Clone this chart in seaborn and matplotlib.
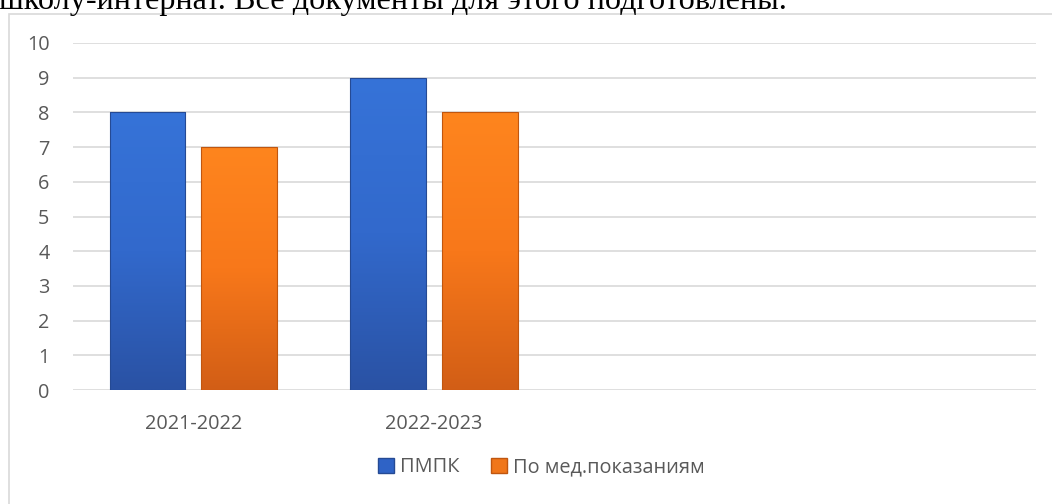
import numpy as np
import pandas as pd
import matplotlib
matplotlib.use("Agg")
import matplotlib.pyplot as plt
from matplotlib.patches import Rectangle
from matplotlib.colors import LinearSegmentedColormap
import seaborn as sns

# data
years = ["2021-2022", "2022-2023"]
pmpk = [8, 9]
med = [7, 8]
series_names = ["ПМПК", "По мед.показаниям"]
header_text = "школу-интернат. Все документы для этого подготовлены."

df = pd.DataFrame({
    "year": years * 2,
    "value": pmpk + med,
    "kind": [series_names[0]] * len(years) + [series_names[1]] * len(years),
})

sns.set_style("white")
plt.rcParams["font.family"] = ["Open Sans", "DejaVu Sans"]

W, H = 1052, 504
fig = plt.figure(figsize=(W / 100, H / 100), dpi=100)

# chart frame (cut off at right and bottom)
fig.patches.append(Rectangle((9 / W, -0.1), 1.2, 1 - 14 / H + 0.1, transform=fig.transFigure,
                             fill=False, edgecolor="#d9d9d9", linewidth=1.2))

# surrounding document text, cut at the top
fig.text(-1 / W, 1 - 8.5 / H, header_text, family="Liberation Serif", fontsize=23.2,
         va="baseline", ha="left", color="black")

ax = fig.add_axes([73 / W, 114 / H, (1036 - 73) / W, (390 - 43) / H])
colors = ["#2f63c6", "#f0761a"]
sns.barplot(data=df, x="year", y="value", hue="kind", order=years, hue_order=series_names,
            palette=colors, width=0.763, gap=0.174, ax=ax, legend=False, zorder=3)

# vertical gradient on each bar
grads = [LinearSegmentedColormap.from_list("b", ["#2a52a4", "#3269cc", "#3673d8"]),
         LinearSegmentedColormap.from_list("o", ["#d25e16", "#f8781a", "#fe851e"])]
edges = ["#254a94", "#c0560f"]
for i, cont in enumerate(ax.containers):
    for p in cont.patches:
        x0, y0 = p.get_x(), p.get_y()
        w, h = p.get_width(), p.get_height()
        img = ax.imshow(np.linspace(0, 1, 256).reshape(-1, 1), cmap=grads[i], aspect="auto",
                        extent=[x0, x0 + w, y0, y0 + h], origin="lower", zorder=3)
        img.set_clip_path(p)
        p.set_facecolor("none")
        p.set_edgecolor(edges[i])
        p.set_linewidth(0.8)
        p.set_zorder(4)

ax.set_xlim(-0.5, 3.5)
ax.set_ylim(0, 10)
ax.set_yticks(range(0, 11))
ax.yaxis.grid(True, color="#d9d9d9", linewidth=1.2, zorder=0)
ax.set_axisbelow(True)
for s in ax.spines.values():
    s.set_visible(False)
ax.set_xlabel("")
ax.set_ylabel("")
ax.tick_params(axis="both", length=0, labelsize=14.3, labelcolor="#595959")
ax.tick_params(axis="y", pad=17)
ax.tick_params(axis="x", pad=17)

handles = [Rectangle((0, 0), 1, 1, facecolor=c, edgecolor=e) for c, e in zip(colors, edges)]
fig.legend(handles, series_names, loc="center", bbox_to_anchor=(541 / W, 1 - 467 / H),
           ncol=2, frameon=False, fontsize=14.3, labelcolor="#595959",
           handlelength=0.8, handleheight=0.8, handletextpad=0.3, columnspacing=1.6)

fig.savefig("out.png", dpi=100)
